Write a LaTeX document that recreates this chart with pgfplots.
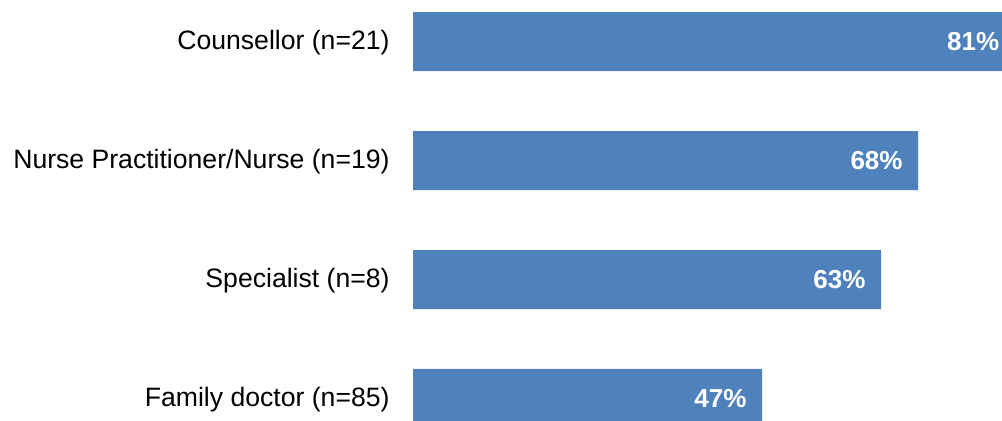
\documentclass[border=0pt]{standalone}
\usepackage{pgfplots}
\pgfplotsset{compat=1.18}
\usepackage{fontspec}
\setmainfont{Liberation Sans}
\definecolor{barblue}{HTML}{4F81BD}
\begin{document}
\begin{tikzpicture}
\path[use as bounding box] (0,0) rectangle (1002bp,421bp);
\begin{scope}
\clip (0,0) rectangle (1002bp,421bp);
\begin{axis}[
 at={(413bp,0)}, anchor=south west,
 scale only axis, width=609.26bp, height=421bp,
 xbar, bar width=0.496,
 xmin=0, xmax=82, ymin=-0.189, ymax=3.349,
 axis line style={draw=none}, tick style={draw=none},
 xtick=\empty, ytick={0,1,2,3},
 yticklabels={Family doctor (n=85), Specialist (n=8), Nurse Practitioner/Nurse (n=19), Counsellor (n=21)},
 yticklabel style={font=\fontsize{26.6bp}{32bp}\selectfont, inner sep=0pt, xshift=-19bp, yshift=-1.5bp},
 point meta=explicit symbolic,
 nodes near coords={\pgfplotspointmeta\%},
 nodes near coords style={font=\fontsize{26bp}{32bp}\selectfont\bfseries, color=white, anchor=east, inner sep=0pt, xshift=-15.5bp},
 clip=false,
]
\addplot[fill=barblue, draw=none] coordinates {(47,0) [47] (63,1) [63] (68,2) [68] (81,3) [81]};
\end{axis}
\end{scope}
\end{tikzpicture}
\end{document}
